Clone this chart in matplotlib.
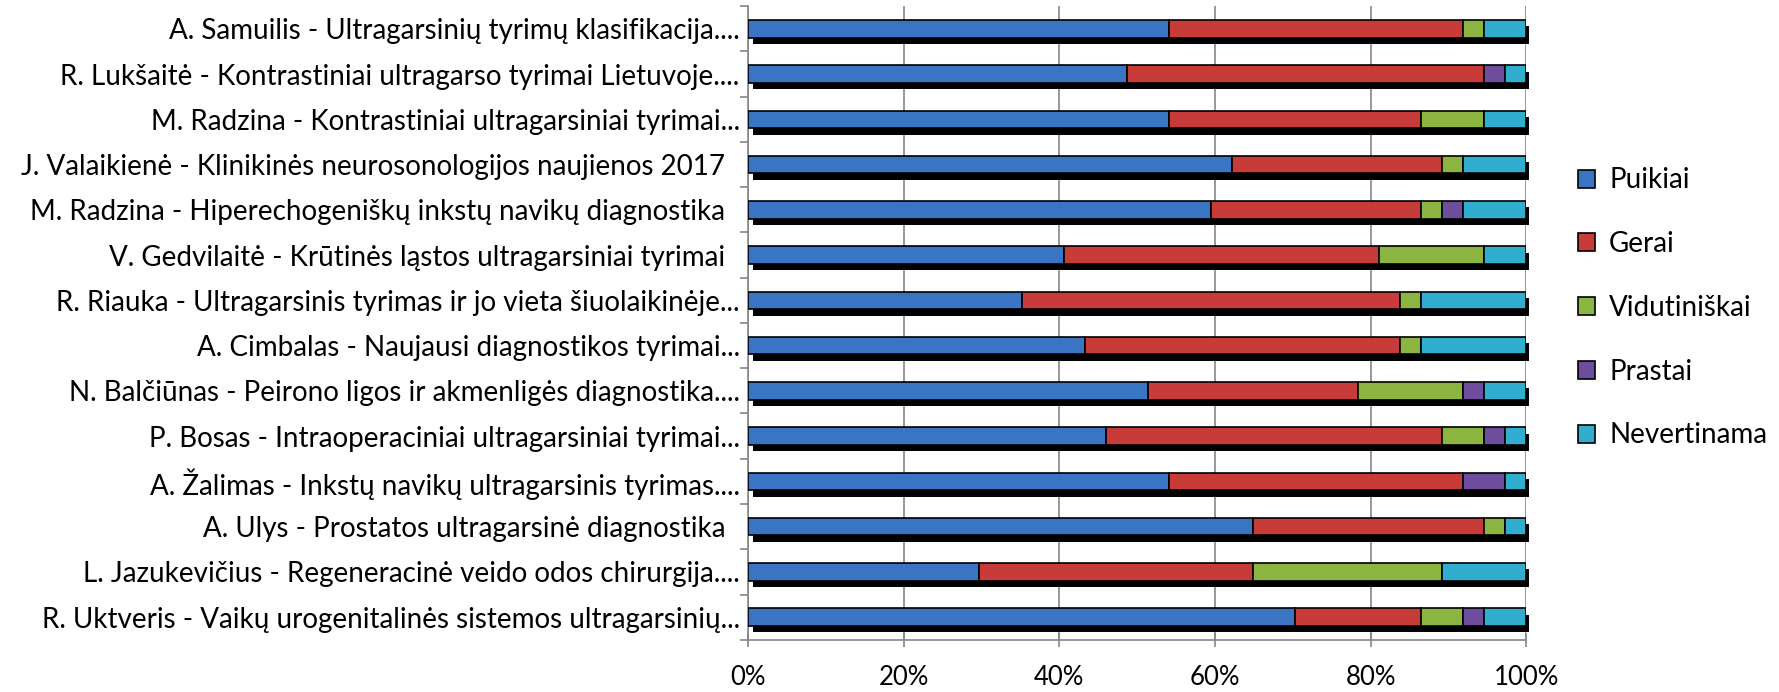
import matplotlib
matplotlib.use("Agg")
import matplotlib.pyplot as plt
from matplotlib.patches import Patch
import numpy as np

plt.rcParams['font.family'] = ['Lato', 'DejaVu Sans']

labels = [
    "A. Samuilis - Ultragarsinių tyrimų klasifikacija....",
    "R. Lukšaitė - Kontrastiniai ultragarso tyrimai Lietuvoje....",
    "M. Radzina - Kontrastiniai ultragarsiniai tyrimai...",
    "J. Valaikienė - Klinikinės neurosonologijos naujienos 2017  ",
    "M. Radzina - Hiperechogeniškų inkstų navikų diagnostika  ",
    "V. Gedvilaitė - Krūtinės ląstos ultragarsiniai tyrimai  ",
    "R. Riauka - Ultragarsinis tyrimas ir jo vieta šiuolaikinėje...",
    "A. Cimbalas - Naujausi diagnostikos tyrimai...",
    "N. Balčiūnas - Peirono ligos ir akmenligės diagnostika....",
    "P. Bosas - Intraoperaciniai ultragarsiniai tyrimai...",
    "A. Žalimas - Inkstų navikų ultragarsinis tyrimas....",
    "A. Ulys - Prostatos ultragarsinė diagnostika  ",
    "L. Jazukevičius - Regeneracinė veido odos chirurgija....",
    "R. Uktveris - Vaikų urogenitalinės sistemos ultragarsinių...",
]

series_names = ["Puikiai", "Gerai", "Vidutiniškai", "Prastai", "Nevertinama"]
puikiai = [20, 18, 20, 23, 22, 15, 13, 16, 19, 17, 20, 24, 11, 26]
gerai = [14, 17, 12, 10, 10, 15, 18, 15, 10, 16, 14, 11, 13, 6]
vidutiniskai = [1, 0, 3, 1, 1, 5, 1, 1, 5, 2, 0, 1, 9, 2]
prastai = [0, 1, 0, 0, 1, 0, 0, 0, 1, 1, 2, 0, 0, 1]
nevertinama = [2, 1, 2, 3, 3, 2, 5, 5, 2, 1, 1, 1, 4, 2]

colors = ["#3A75C4", "#C73B39", "#8CB440", "#6E4D9C", "#30ADCF"]

data = np.array([puikiai, gerai, vidutiniskai, prastai, nevertinama], dtype=float)
pct = data / data.sum(axis=0) * 100

fig = plt.figure(figsize=(17.79, 6.92), dpi=100)
ax = fig.add_axes([0.4205, 0.0755, 0.4375, 0.9155])

y = np.arange(len(labels))
h = 0.39

# shadow under each bar
ax.barh(y + 0.14, 99.7, left=0.65, height=h, color="black", zorder=2, clip_on=False)

left = np.zeros(len(labels))
for i, name in enumerate(series_names):
    ax.barh(y, pct[i], left=left, height=h, color=colors[i],
            edgecolor="black", linewidth=1.2, label=name, zorder=3)
    left += pct[i]

ax.set_xlim(0, 100)
ax.set_ylim(len(labels) - 0.5, -0.5)
ax.set_xticks(np.arange(0, 101, 20))
ax.set_xticklabels([f"{v}%" for v in range(0, 101, 20)])
ax.set_yticks(y)
ax.set_yticklabels(labels)
ax.set_yticks(np.arange(-0.5, len(labels), 1), minor=True)

ax.grid(axis="x", color="#868686", linewidth=1.2, zorder=0)
ax.set_axisbelow(True)

for s in ["top", "right"]:
    ax.spines[s].set_visible(False)
ax.spines["left"].set_color("#868686")
ax.spines["bottom"].set_color("#868686")
ax.spines["left"].set_linewidth(1.2)
ax.spines["bottom"].set_linewidth(1.2)

ax.tick_params(axis="y", which="major", length=0, pad=6, labelsize=20)
ax.tick_params(axis="y", which="minor", length=6, color="#868686", width=1.2)
ax.tick_params(axis="x", which="major", length=10, direction="inout",
               color="#868686", width=1.2, pad=13, labelsize=18.5)

handles = [Patch(facecolor=c, edgecolor="black", linewidth=1.2) for c in colors]
fig.legend(handles, series_names, loc="center left", bbox_to_anchor=(0.873, 0.555),
           frameon=False, fontsize=20, handlelength=0.62, handleheight=0.62,
           handletextpad=0.5, labelspacing=1.36)

fig.savefig("out.png", dpi=100)
